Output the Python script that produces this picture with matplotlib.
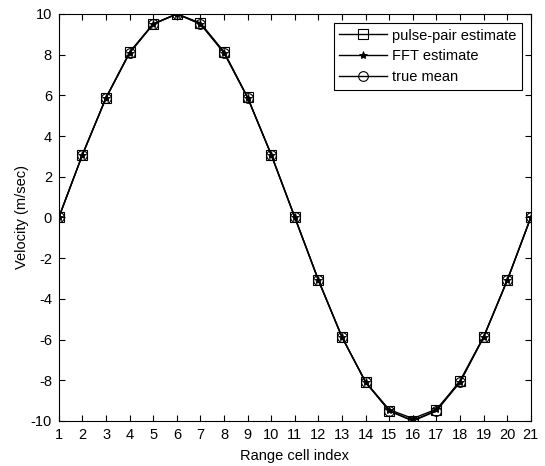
import numpy as np
import matplotlib
matplotlib.use('Agg')
import matplotlib.pyplot as plt

plt.rcParams['font.family'] = ['Liberation Sans', 'DejaVu Sans']
plt.rcParams['axes.unicode_minus'] = False

range_cell = list(range(1, 22))
true_mean = [0.0, 3.09, 5.88, 8.09, 9.51, 10.0, 9.51, 8.09, 5.88, 3.09, 0.0,
             -3.09, -5.88, -8.09, -9.51, -10.0, -9.51, -8.09, -5.88, -3.09, 0.0]
pulse_pair = [0.02, 3.08, 5.89, 8.13, 9.52, 10.0, 9.56, 8.14, 5.90, 3.07, 0.01,
              -3.07, -5.89, -8.10, -9.49, -9.98, -9.48, -8.02, -5.86, -3.08, 0.01]
fft_est = [0.0, 3.09, 5.88, 8.09, 9.50, 10.0, 9.51, 8.09, 5.88, 3.09, 0.0,
           -3.09, -5.88, -8.09, -9.44, -9.88, -9.42, -8.09, -5.88, -3.09, 0.0]

fig = plt.figure(figsize=(5.45, 4.66), dpi=100)
ax = fig.add_axes([0.108, 0.0966, 0.866, 0.8734])

ax.plot(range_cell, pulse_pair, 'k-', marker='s', mfc='none', ms=7, mew=0.8,
        lw=1, label='pulse-pair estimate')
ax.plot(range_cell, fft_est, 'k-', marker='*', ms=6, mew=0.6,
        lw=1, label='FFT estimate')
ax.plot(range_cell, true_mean, 'k-', marker='o', mfc='none', ms=7, mew=0.8,
        lw=1, label='true mean')

ax.set_xlim(1, 21)
ax.set_ylim(-10, 10)
ax.set_xticks(range_cell)
ax.set_yticks(np.arange(-10, 11, 2))
ax.tick_params(direction='in', top=True, right=True, labelsize=10.5,
               length=4, width=0.8, pad=5)
for s in ax.spines.values():
    s.set_linewidth(0.8)
ax.set_xlabel('Range cell index', fontsize=10.5, labelpad=5)
ax.set_ylabel('Velocity (m/sec)', fontsize=10.5, labelpad=1)

leg = ax.legend(loc='upper right', fontsize=10.5, fancybox=False,
                edgecolor='black', framealpha=1, borderaxespad=0.6,
                handlelength=3.3, handletextpad=0.3, labelspacing=0.45,
                borderpad=0.4)
leg.get_frame().set_linewidth(0.8)

fig.savefig('out.png', dpi=100)
